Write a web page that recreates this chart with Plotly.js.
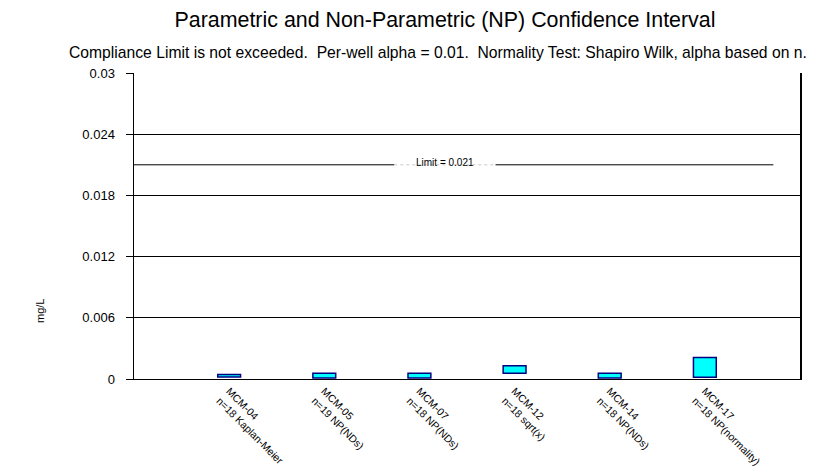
<!DOCTYPE html>
<html>
<head>
<meta charset="utf-8">
<script src="https://cdn.plot.ly/plotly-3.0.1.min.js"></script>
<style>html,body{margin:0;padding:0;background:#fff;}#chart{width:818px;height:471px;}</style>
</head>
<body>
<div id="chart"></div>
<script>
// ---- data ----
var wells = ["MCM-04", "MCM-05", "MCM-07", "MCM-12", "MCM-14", "MCM-17"];
var methods = ["n=18 Kaplan-Meier", "n=19 NP(NDs)", "n=18 NP(NDs)", "n=18 sqrt(x)", "n=18 NP(NDs)", "n=18 NP(normality)"];
var lowerLimit = [0.0002, 0.0001, 0.0001, 0.00057, 0.0001, 0.00018];
var upperLimit = [0.00045, 0.00057, 0.00057, 0.0013, 0.00057, 0.0021];
var complianceLimit = 0.021;
var yTicks = [0, 0.006, 0.012, 0.018, 0.024, 0.03];
var yTickText = ["0", "0.006", "0.012", "0.018", "0.024", "0.03"];

var cats = wells.map(function (w, i) { return w + "<br>" + methods[i]; });
var heights = upperLimit.map(function (u, i) { return u - lowerLimit[i]; });

var FONT = "Liberation Sans, Arial, sans-serif";

var trace = {
  type: "bar",
  x: cats,
  y: heights,
  base: lowerLimit,
  width: 0.24,
  marker: { color: "#00FFFF", line: { color: "#000080", width: 1.5 } },
  hoverinfo: "skip"
};

var layout = {
  width: 818, height: 471,
  margin: { l: 134, r: 18, t: 73, b: 92 },
  paper_bgcolor: "#ffffff",
  plot_bgcolor: "#ffffff",
  showlegend: false,
  font: { family: FONT, color: "#000000" },
  title: {
    text: "Parametric and Non-Parametric (NP) Confidence Interval",
    font: { family: FONT, size: 21.4, color: "#000" },
    x: 445 / 818, xref: "container", xanchor: "center",
    y: 1 - 20 / 471, yref: "container", yanchor: "middle"
  },
  xaxis: {
    type: "category",
    range: [-1, 6],
    showgrid: false,
    zeroline: false,
    showline: true, linecolor: "#000", linewidth: 1,
    ticks: "",
    tickangle: 45,
    ticklabelstandoff: 1,
    tickfont: { family: FONT, size: 10.5, color: "#000" },
    fixedrange: true
  },
  yaxis: {
    range: [0, 0.03],
    tickvals: yTicks,
    ticktext: yTickText,
    showgrid: true, gridcolor: "#000", gridwidth: 1,
    zeroline: false,
    showline: true, linecolor: "#000", linewidth: 1.5, mirror: true,
    ticks: "outside", ticklen: 7, tickcolor: "#000", tickwidth: 1,
    ticklabelstandoff: 8,
    tickfont: { family: FONT, size: 13, color: "#000" },
    fixedrange: true
  },
  shapes: [
    { type: "line", xref: "x", yref: "y", x0: -1, x1: 1.736, y0: complianceLimit, y1: complianceLimit,
      line: { color: "#000", width: 1 } },
    { type: "line", xref: "x", yref: "y", x0: 1.736, x1: 2.80, y0: complianceLimit, y1: complianceLimit,
      line: { color: "#c8c8c8", width: 1, dash: "dot" } },
    { type: "line", xref: "x", yref: "y", x0: 2.80, x1: 5.72, y0: complianceLimit, y1: complianceLimit,
      line: { color: "#000", width: 1 } }
  ],
  annotations: [
    { text: "Compliance Limit is not exceeded.  Per-well alpha = 0.01.  Normality Test: Shapiro Wilk, alpha based on n.",
      xref: "paper", yref: "paper", x: (438 - 134) / 666, y: (379 - 52) / 306,
      xanchor: "center", yanchor: "middle", showarrow: false,
      font: { family: FONT, size: 15.7, color: "#000" } },
    { text: "Limit = 0.021", xref: "x", yref: "y", x: 2.27, y: complianceLimit,
      xanchor: "center", yanchor: "middle", yshift: 2, showarrow: false,
      font: { family: FONT, size: 10, color: "#000" } },
    { text: "mg/L", xref: "paper", yref: "paper", x: (40 - 134) / 666, y: (379 - 311) / 306,
      xanchor: "center", yanchor: "middle", textangle: -90, showarrow: false,
      font: { family: FONT, size: 11, color: "#000" } }
  ]
};

Plotly.newPlot("chart", [trace], layout, { displayModeBar: false, staticPlot: true });
</script>
</body>
</html>
